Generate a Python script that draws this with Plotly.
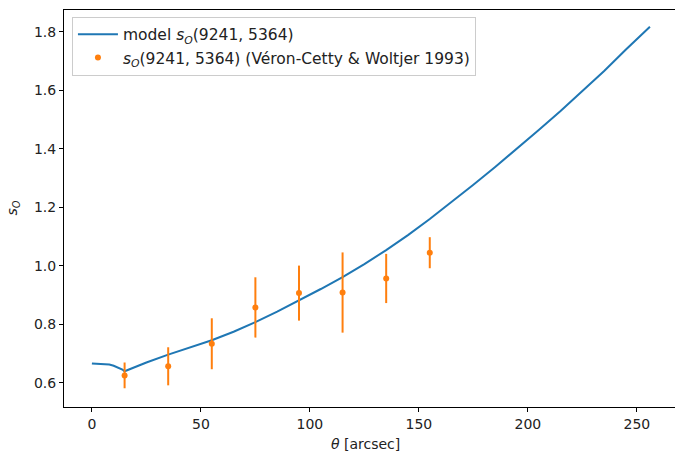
import plotly.graph_objects as go

# Model curve s_O(9241, 5364) vs theta [arcsec]
model_theta = [0, 5, 8, 10, 12, 14, 15, 20, 25, 35, 45, 55, 65, 75, 85, 95, 105, 115,
               125, 135, 145, 155, 165, 175, 185, 195, 205, 215, 225, 235, 245, 256]
model_s = [0.667, 0.666, 0.663, 0.659, 0.653, 0.646, 0.640, 0.656, 0.670, 0.697, 0.721,
           0.746, 0.775, 0.808, 0.844, 0.882, 0.921, 0.962, 1.006, 1.054, 1.105, 1.160,
           1.218, 1.277, 1.338, 1.400, 1.464, 1.529, 1.597, 1.666, 1.739, 1.817]

# Observed points (Véron-Cetty & Woltjer 1993)
obs_theta = [15, 35, 55, 75, 95, 115, 135, 155]
obs_s = [0.626, 0.657, 0.734, 0.858, 0.907, 0.909, 0.957, 1.045]
obs_err = [0.044, 0.065, 0.087, 0.103, 0.094, 0.137, 0.084, 0.053]

x_ticks = [0, 50, 100, 150, 200, 250]
y_ticks = [0.6, 0.8, 1.0, 1.2, 1.4, 1.6, 1.8]

blue = "#1f77b4"
orange = "#ff7f0e"
font = "DejaVu Sans"
txt = "#222222"

fig = go.Figure()
fig.add_trace(go.Scatter(
    x=model_theta, y=model_s, mode="lines",
    line=dict(color=blue, width=2),
    name="model <i>s</i><sub><i>O</i></sub>(9241, 5364)",
))
fig.add_trace(go.Scatter(
    x=obs_theta, y=obs_s, mode="markers",
    marker=dict(color=orange, size=6),
    error_y=dict(type="data", array=obs_err, color=orange, thickness=2, width=0),
    name="<i>s</i><sub><i>O</i></sub>(9241, 5364) (Véron-Cetty &amp; Woltjer 1993)",
))

axis_common = dict(
    showgrid=False, zeroline=False, showline=True, linecolor="black", linewidth=1,
    ticks="outside", ticklen=4, tickcolor="black", tickwidth=1, automargin=False,
    tickfont=dict(family=font, size=14, color=txt),
)

fig.update_layout(
    width=675, height=454,
    margin=dict(l=64, r=0, t=10, b=47),
    paper_bgcolor="white", plot_bgcolor="white",
    font=dict(family=font, size=14, color=txt),
    xaxis=dict(**axis_common, range=[-12.8, 267.5], tickvals=x_ticks, mirror=True),
    yaxis=dict(**axis_common, range=[0.518, 1.874], tickvals=y_ticks, tickformat=".1f"),
    legend=dict(x=0.013, y=0.983, xanchor="left", yanchor="top",
                bgcolor="rgba(255,255,255,0.8)", bordercolor="#cccccc", borderwidth=1,
                font=dict(family=font, size=15.5, color=txt), tracegroupgap=0,
                itemwidth=40),
    showlegend=True,
    annotations=[
        dict(text="<i>θ</i> [arcsec]", xref="paper", yref="paper", x=0.494, y=-0.118,
             xanchor="center", yanchor="bottom", showarrow=False,
             font=dict(family=font, size=14, color=txt)),
        dict(text="<i>s</i><sub><i>O</i></sub>", xref="paper", yref="paper", x=-0.085, y=0.5,
             xanchor="center", yanchor="middle", showarrow=False, textangle=-90,
             font=dict(family=font, size=14, color=txt)),
    ],
)

fig.write_html("out.html", config={"displayModeBar": False},
               post_script="document.body.style.margin='0px';document.body.style.overflow='hidden';")
